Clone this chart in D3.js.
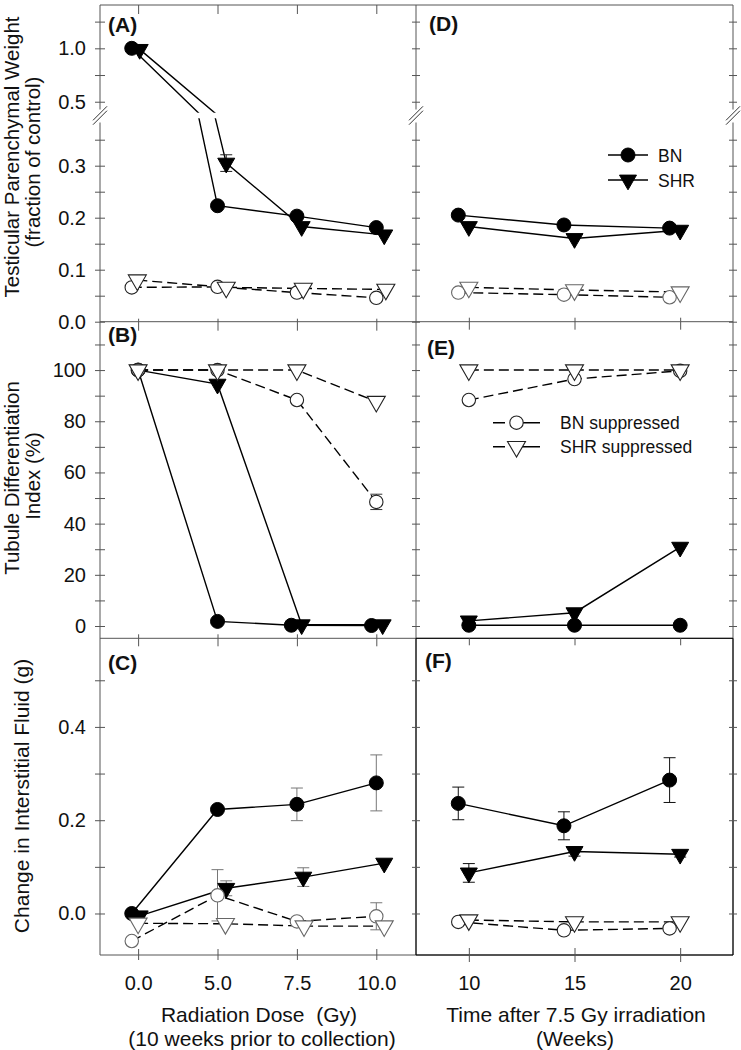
<!DOCTYPE html>
<html><head><meta charset="utf-8">
<script src="https://cdn.jsdelivr.net/npm/d3@7"></script>
<style>
body{margin:0;background:#fff;}
svg{display:block;}
</style></head><body>
<svg id="c" width="741" height="1050"></svg>
<script>
// ================= DATA =================
const doseLabels = ["0.0", "5.0", "7.5", "10.0"];
const doseIndex = [0, 1, 2, 3];
const weekTicks = [10, 15, 20];

// Panel A: Testicular parenchymal weight (fraction of control) vs dose
const aBN_x   = [-0.08, 1.0, 2.0, 3.0];
const aBN     = [1.0, 0.223, 0.203, 0.181];
const aSHR_x  = [0.02, 1.11, 2.06, 3.10];
const aSHR    = [0.99, 0.305, 0.183, 0.167];
const aSHR_err= [0, 0.016, 0, 0];
const aBNs_x  = [-0.08, 1.0, 2.0, 3.0];
const aBNs    = [0.066, 0.067, 0.056, 0.046];
const aSHRs_x = [-0.01, 1.11, 2.08, 3.12];
const aSHRs   = [0.080, 0.066, 0.064, 0.062];

// Panel B: Tubule differentiation index (%) vs dose
const bBN_x   = [0, 1.0, 1.93, 2.94];
const bBN     = [100, 1.8, 0.3, 0.2];
const bSHR_x  = [0, 1.0, 2.06, 3.08];
const bSHR    = [100, 94.5, 0.5, 0.5];
const bBNs_x  = [0, 1.0, 2.0, 3.0];
const bBNs    = [100, 100, 88.3, 48.5];
const bBNs_err= [0, 0, 0, 3];
const bSHRs_x = [0, 1.0, 2.0, 3.0];
const bSHRs   = [100, 100, 100, 87.7];

// Panel C: Change in interstitial fluid (g) vs dose
const cBN_x   = [-0.08, 1.0, 2.0, 3.0];
const cBN     = [0.0, 0.223, 0.234, 0.28];
const cBN_err = [0, 0, 0.035, 0.06];
const cSHR_x  = [0.02, 1.11, 2.08, 3.10];
const cSHR    = [-0.005, 0.054, 0.078, 0.108];
const cSHR_err= [0, 0.016, 0.02, 0];
const cBNs_x  = [-0.08, 1.0, 2.0, 3.0];
const cBNs    = [-0.059, 0.039, -0.017, -0.006];
const cBNs_err= [0, 0.055, 0, 0.029];
const cSHRs_x = [0, 1.10, 2.09, 3.10];
const cSHRs   = [-0.021, -0.022, -0.027, -0.027];

// Panel D: parenchymal weight vs weeks after 7.5 Gy
const dBN_x   = [9.5, 14.5, 19.5];
const dBN     = [0.205, 0.186, 0.180];
const dSHR_x  = [10, 15, 20];
const dSHR    = [0.183, 0.160, 0.176];
const dBNs_x  = [9.5, 14.5, 19.5];
const dBNs    = [0.056, 0.052, 0.047];
const dSHRs_x = [10, 15, 20];
const dSHRs   = [0.066, 0.061, 0.057];

// Panel E: tubule differentiation index vs weeks
const eBN_x   = [10, 15, 20];
const eBN     = [0.3, 0.3, 0.3];
const eSHR_x  = [10, 15, 20];
const eSHR    = [2.0, 5.2, 30.8];
const eBNs_x  = [10, 15, 20];
const eBNs    = [88.3, 96.5, 99.7];
const eSHRs_x = [10, 15, 20];
const eSHRs   = [100, 100, 100];

// Panel F: change in interstitial fluid vs weeks
const fBN_x   = [9.5, 14.5, 19.5];
const fBN     = [0.236, 0.188, 0.286];
const fBN_err = [0.035, 0.030, 0.048];
const fSHR_x  = [10, 15, 20];
const fSHR    = [0.087, 0.133, 0.127];
const fSHR_err= [0.020, 0.010, 0.006];
const fBNs_x  = [9.5, 14.5, 19.5];
const fBNs    = [-0.018, -0.036, -0.032];
const fSHRs_x = [10, 15, 20];
const fSHRs   = [-0.014, -0.018, -0.018];

// Tick values
const aUpMajor = [0.5, 1.0], aUpMinor = [0.75, 1.25];
const aLoMajor = [0.0, 0.1, 0.2, 0.3], aLoMinor = [0.05, 0.15, 0.25, 0.35];
const bMajor = [0, 20, 40, 60, 80, 100], bMinor = [10, 30, 50, 70, 90, 110];
const cMajor = [0.0, 0.2, 0.4], cMinor = [0.1, 0.3, 0.5];

// ================= LAYOUT =================
const FONT = '"Liberation Sans", Arial, Helvetica, sans-serif';
const L = 100, M = 416, R = 733;
const T = 5, AB = 321.7, BC = 638.3, BOT = 955;
const BRK = 115.5;
const axisColor = "#555";

const xDose = d3.scaleLinear().domain([-0.48, 3.5]).range([L, M]);
const xWeek = d3.scaleLinear().domain([7.5, 22.5]).range([M, R]);
const yAup = d3.scaleLinear().domain([0.4, 1.4]).range([112.4, 5.6]);
const yAlo = d3.scaleLinear().domain([0, 0.39]).range([AB, 118.9]);
const yB = d3.scaleLinear().domain([-4.8, 118.9]).range([BC, AB]);
const yC = d3.scaleLinear().domain([-0.089, 0.59]).range([BOT, BC]);

const svg = d3.select("#c").attr("font-family", FONT);

const defs = svg.append("defs");
defs.append("clipPath").attr("id", "clipUp").append("rect")
  .attr("x", 0).attr("y", 0).attr("width", 741).attr("height", 112.7);
defs.append("clipPath").attr("id", "clipLo").append("rect")
  .attr("x", 0).attr("y", 118.3).attr("width", 741).attr("height", 210);

// ================= FRAME =================
function hline(y, x1, x2, col) {
  svg.append("line").attr("x1", x1).attr("x2", x2).attr("y1", y).attr("y2", y)
    .attr("stroke", col || axisColor).attr("stroke-width", 1);
}
function vline(x, y1, y2, col) {
  svg.append("line").attr("x1", x).attr("x2", x).attr("y1", y1).attr("y2", y2)
    .attr("stroke", col || axisColor).attr("stroke-width", 1);
}
[T, AB, BC, BOT].forEach(y => hline(y, L, R));
[L, M, R].forEach(x => { vline(x, T, BRK - 6); vline(x, BRK + 7, BOT); });
// F box in black
hline(BC, M, R, "#000"); hline(BOT, M, R, "#000");
vline(M, BC, BOT, "#000"); vline(R, BC, BOT, "#000");

// break marks
[L, M, R].forEach(x => {
  [-2.2, 2.2].forEach(off => {
    svg.append("line")
      .attr("x1", x - 7).attr("y1", BRK + off + 7)
      .attr("x2", x + 7).attr("y2", BRK + off - 7)
      .attr("stroke", "#333").attr("stroke-width", 1);
  });
});

// ================= TICKS =================
function styleAxis(g) {
  g.select(".domain").remove();
  g.selectAll("line").attr("stroke", axisColor);
  g.attr("font-size", 20).attr("font-family", FONT);
  g.selectAll("text").attr("fill", "#111");
}
function vTicks(x, scale, values, out, inn, fmt) {
  svg.append("g").attr("transform", `translate(${x},0)`)
    .call(d3.axisLeft(scale).tickValues(values).tickSize(out).tickPadding(9).tickFormat(fmt || ""))
    .call(styleAxis);
  svg.append("g").attr("transform", `translate(${x},0)`)
    .call(d3.axisRight(scale).tickValues(values).tickSize(inn).tickFormat(""))
    .call(styleAxis);
}
function hTicks(y, scale, values, up, down) {
  if (down > 0) svg.append("g").attr("transform", `translate(0,${y})`)
    .call(d3.axisBottom(scale).tickValues(values).tickSize(down).tickFormat("")).call(styleAxis);
  if (up > 0) svg.append("g").attr("transform", `translate(0,${y})`)
    .call(d3.axisTop(scale).tickValues(values).tickSize(up).tickFormat("")).call(styleAxis);
}
const f1 = d3.format(".1f"), f0 = d3.format("d");
// left axis with labels
vTicks(L, yAup, aUpMajor, 5, 5, f1); vTicks(L, yAup, aUpMinor, 5, 5);
vTicks(L, yAlo, aLoMajor, 5, 5, f1); vTicks(L, yAlo, aLoMinor, 5, 5);
vTicks(L, yB, bMajor, 5, 5, f0); vTicks(L, yB, bMinor, 5, 5);
vTicks(L, yC, cMajor, 5, 5, f1); vTicks(L, yC, cMinor, 5, 5);
// middle and right axes (no labels)
[M, R].forEach(x => {
  [[yAup, aUpMajor.concat(aUpMinor)], [yAlo, aLoMajor.concat(aLoMinor)],
   [yB, bMajor.concat(bMinor)], [yC, cMajor.concat(cMinor)]].forEach(([s, v]) => vTicks(x, s, v, 4, 4));
});
// horizontal ticks
hTicks(T, xDose, doseIndex, 0, 9);
hTicks(AB, xDose, doseIndex, 3, 9);
hTicks(BC, xDose, doseIndex, 4, 8);
hTicks(BOT, xDose, doseIndex, 6, 5);
hTicks(AB, xWeek, weekTicks, 4, 8);
hTicks(BC, xWeek, weekTicks, 0, 7);
hTicks(BOT, xWeek, weekTicks, 7, 7);

// x tick labels
svg.append("g").attr("transform", `translate(0,${BOT})`)
  .call(d3.axisBottom(xDose).tickValues(doseIndex).tickSize(0).tickPadding(21)
    .tickFormat((d, i) => doseLabels[i])).call(styleAxis);
svg.append("g").attr("transform", `translate(0,${BOT})`)
  .call(d3.axisBottom(xWeek).tickValues(weekTicks).tickSize(0).tickPadding(21)
    .tickFormat(d3.format("d"))).call(styleAxis);

// ================= MARKS =================
const R_C = 7, TRI = 125, TRI_O = 140;
function marker(g, type, cx, cy, col) {
  const filled = type === "fc" || type === "ft";
  if (type === "fc" || type === "oc") {
    g.append("circle").attr("cx", cx).attr("cy", cy).attr("r", filled ? R_C : R_C - 0.3)
      .attr("fill", filled ? "#000" : "#fff").attr("stroke", filled ? "#000" : col)
      .attr("stroke-width", filled ? 1 : 1.1);
  } else {
    g.append("path").attr("d", d3.symbol(d3.symbolTriangle, filled ? TRI : TRI_O)())
      .attr("transform", `translate(${cx},${cy}) rotate(180)`)
      .attr("fill", filled ? "#000" : "#fff").attr("stroke", filled ? "#000" : col)
      .attr("stroke-width", filled ? 1 : 1.1);
  }
}
function errBars(g, xs, ys, errs, xs_, ysc, col) {
  if (!errs) return;
  ys.forEach((v, i) => {
    const e = errs[i]; if (!e) return;
    const cx = xs_(xs[i]), y1 = ysc(v - e), y2 = ysc(v + e);
    g.append("line").attr("x1", cx).attr("x2", cx).attr("y1", y1).attr("y2", y2).attr("stroke", col).attr("stroke-width", 1);
    [y1, y2].forEach(yy => g.append("line").attr("x1", cx - 6).attr("x2", cx + 6)
      .attr("y1", yy).attr("y2", yy).attr("stroke", col).attr("stroke-width", 1));
  });
}
function seriesLine(g, xs, ys, xsc, ysc, dashed) {
  const line = d3.line().x((d, i) => xsc(xs[i])).y(d => ysc(d));
  g.append("path").attr("d", line(ys)).attr("fill", "none").attr("stroke", "#000")
    .attr("stroke-width", 1.4).attr("stroke-dasharray", dashed ? "10,5" : null);
}
// series spec: [xs, ys, errs, type, dashed]
function panel(xsc, ysc, series, openCol, errCol) {
  const g = svg.append("g");
  series.forEach(s => seriesLine(g, s[0], s[1], xsc, ysc, s[4]));
  series.forEach(s => errBars(g, s[0], s[1], s[2], xsc, ysc, errCol));
  series.forEach(s => s[1].forEach((v, i) => marker(g, s[3], xsc(s[0][i]), ysc(v), openCol)));
  return g;
}

// ---- Panel A (broken axis) ----
const aSeries = [
  [aBN_x, aBN, null, "fc", false],
  [aSHR_x, aSHR, aSHR_err, "ft", false],
  [aBNs_x, aBNs, null, "oc", true],
  [aSHRs_x, aSHRs, null, "ot", true]
];
const gUp = svg.append("g").attr("clip-path", "url(#clipUp)");
const gLo = svg.append("g").attr("clip-path", "url(#clipLo)");
aSeries.forEach(s => { seriesLine(gUp, s[0], s[1], xDose, yAup, s[4]); seriesLine(gLo, s[0], s[1], xDose, yAlo, s[4]); });
const yAmark = v => v >= 0.4 ? yAup(v) : yAlo(v);
const gAm = svg.append("g");
aSeries.forEach(s => errBars(gAm, s[0], s[1], s[2], xDose, yAmark, "#222"));
aSeries.forEach(s => s[1].forEach((v, i) => marker(gAm, s[3], xDose(s[0][i]), yAmark(v), "#222")));

// ---- Panel B ----
panel(xDose, yB, [
  [bBN_x, bBN, null, "fc", false],
  [bSHR_x, bSHR, null, "ft", false],
  [bBNs_x, bBNs, bBNs_err, "oc", true],
  [bSHRs_x, bSHRs, null, "ot", true]
], "#222", "#333");

// ---- Panel C ----
panel(xDose, yC, [
  [cBN_x, cBN, cBN_err, "fc", false],
  [cSHR_x, cSHR, cSHR_err, "ft", false],
  [cBNs_x, cBNs, cBNs_err, "oc", true],
  [cSHRs_x, cSHRs, null, "ot", true]
], "#666", "#777");

// ---- Panel D ----
panel(xWeek, yAlo, [
  [dBN_x, dBN, null, "fc", false],
  [dSHR_x, dSHR, null, "ft", false],
  [dBNs_x, dBNs, null, "oc", true],
  [dSHRs_x, dSHRs, null, "ot", true]
], "#666", "#333");

// ---- Panel E ----
panel(xWeek, yB, [
  [eBN_x, eBN, null, "fc", false],
  [eSHR_x, eSHR, null, "ft", false],
  [eBNs_x, eBNs, null, "oc", true],
  [eSHRs_x, eSHRs, null, "ot", true]
], "#222", "#333");

// ---- Panel F ----
panel(xWeek, yC, [
  [fBN_x, fBN, fBN_err, "fc", false],
  [fSHR_x, fSHR, fSHR_err, "ft", false],
  [fBNs_x, fBNs, null, "oc", true],
  [fSHRs_x, fSHRs, null, "ot", true]
], "#222", "#111");

// ================= LEGENDS =================
function legendItem(x1, x2, y, type, dashed, text, tx) {
  svg.append("line").attr("x1", x1).attr("x2", x2).attr("y1", y).attr("y2", y)
    .attr("stroke", "#000").attr("stroke-width", 1.4).attr("stroke-dasharray", dashed ? "12,16,200" : null);
  marker(svg, type, (x1 + x2) / 2, y, "#222");
  svg.append("text").attr("x", tx).attr("y", y + 6.5).attr("font-size", 17.5).attr("fill", "#111").text(text);
}
legendItem(608, 648, 155, "fc", false, "BN", 658);
legendItem(608, 648, 180, "ft", false, "SHR", 658);
legendItem(493, 540, 422.7, "oc", true, "BN suppressed", 560);
legendItem(493, 540, 446.7, "ot", true, "SHR suppressed", 560);

// ================= TEXT =================
function ptext(x, y, t) {
  svg.append("text").attr("x", x).attr("y", y).attr("font-size", 21).attr("font-weight", "bold")
    .attr("fill", "#111").text(t);
}
ptext(108, 32, "(A)"); ptext(429, 31, "(D)");
ptext(108, 342, "(B)"); ptext(427, 355, "(E)");
ptext(108, 670, "(C)"); ptext(425, 668, "(F)");

function vtitle(x, y, t, fs) {
  svg.append("text").attr("transform", `translate(${x},${y}) rotate(-90)`)
    .attr("text-anchor", "middle").attr("font-size", fs || 21).attr("fill", "#111").text(t);
}
vtitle(19, 157, "Testicular Parenchymal Weight", 20.5);
vtitle(40, 162, "(fraction of control)", 20.5);
vtitle(19, 478, "Tubule Differentiation", 20.5);
vtitle(40, 476, "Index (%)", 20.5);
vtitle(29, 796, "Change in Interstitial Fluid (g)");

function htitle(x, y, t) {
  svg.append("text").attr("x", x).attr("y", y).attr("text-anchor", "middle")
    .attr("font-size", 21).attr("fill", "#111").attr("xml:space", "preserve").style("white-space", "pre").text(t);
}
htitle(259, 1022, "Radiation Dose  (Gy)");
htitle(262, 1046, "(10 weeks prior to collection)");
htitle(576, 1022, "Time after 7.5 Gy irradiation");
htitle(575, 1046, "(Weeks)");
</script>
</body></html>
